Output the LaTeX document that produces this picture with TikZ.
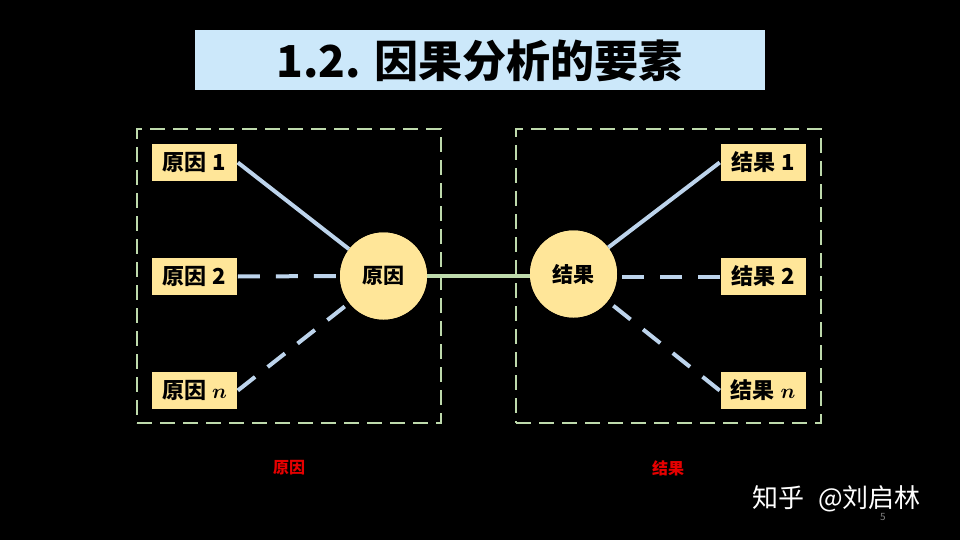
\documentclass[tikz,border=0pt]{standalone}
\usepackage{fontspec}
\setmainfont{Noto Sans CJK SC}
\definecolor{titlebg}{RGB}{204,232,250}
\definecolor{labbg}{RGB}{255,230,153}
\definecolor{lblue}{RGB}{189,212,236}
\definecolor{lgreen}{RGB}{190,218,172}
\definecolor{redtxt}{RGB}{230,0,0}
\tikzset{
  lab/.style={fill=labbg, draw=black, line width=0.6pt, minimum width=86pt, minimum height=38pt, inner sep=0pt, font=\fontsize{22}{26}\selectfont\bfseries},
  hub/.style={circle, fill=labbg, minimum size=87pt, inner sep=0pt, font=\fontsize{21}{24}\selectfont\bfseries},
  frame/.style={draw=lgreen, line width=2.8pt, dash pattern=on 15pt off 8pt},
  solidlink/.style={draw=lblue, line width=4pt},
  dashlink/.style={draw=lblue, line width=4pt, dash pattern=on 22pt off 16pt},
  redlab/.style={text=redtxt, font=\fontsize{16}{18}\selectfont\bfseries}
}
\begin{document}
\begin{tikzpicture}[x=1pt,y=-1pt]
\fill[black] (0,0) rectangle (960,540);
\useasboundingbox (0,0) rectangle (960,540);
% title
\node[fill=titlebg, draw=black, line width=1pt, minimum width=571pt, minimum height=61pt, inner sep=0pt,
  font=\fontsize{44}{50}\selectfont\bfseries] (title) at (479.5,60.5) {1.2. 因果分析的要素};
% frames
\node[frame, minimum width=304pt, minimum height=294pt, inner sep=0pt] (lf) at (289,276) {};
\node[frame, minimum width=305pt, minimum height=294pt, inner sep=0pt] (rf) at (668.5,276) {};
% hubs
\node[hub] (c1) at (383.5,276) {原因};
\node[hub] (c2) at (573.5,274) {结果};
% labels
\node[lab] (o1) at (194.5,162.5) {原因\hspace{6pt}1};
\node[lab] (o2) at (194.5,276.5) {原因\hspace{6pt}2};
\node[lab] (on) at (194.5,390.5) {原因\hspace{6pt}{\boldmath$n$}};
\node[lab] (r1) at (763,162.5) {结果\hspace{6pt}1};
\node[lab] (r2) at (763,276.5) {结果\hspace{6pt}2};
\node[lab] (rn) at (763,390.5) {结果\hspace{6pt}{\boldmath$n$}};
% links
\draw[lgreen, line width=4pt] (c1.east) -- (c2.west |- c1.east);
\draw[solidlink] (o1.east) -- (c1);
\draw[dashlink] (o2.east) -- (c1.west);
\draw[dashlink] (on.east) -- (c1);
\draw[solidlink] (r1.west) -- (c2);
\draw[dashlink] (r2.west) -- (c2.east |- r2.west);
\draw[dashlink] (rn.west) -- (c2);
\node[hub] at (c1) {原因};
\node[hub] at (c2) {结果};
% red labels
\node[redlab] (rl) at (289,468) {原因};
\node[redlab] (rr) at (668,468) {结果};
% watermark
\node[text=white, font=\fontsize{26}{28}\selectfont, anchor=west, inner sep=0pt] (wm) at (752,499) {知乎\hspace{14pt}@刘启林};
\node[text=gray, font=\fontsize{10}{11}\selectfont, inner sep=0pt] (pg) at (883,517) {5};
\end{tikzpicture}
\end{document}
